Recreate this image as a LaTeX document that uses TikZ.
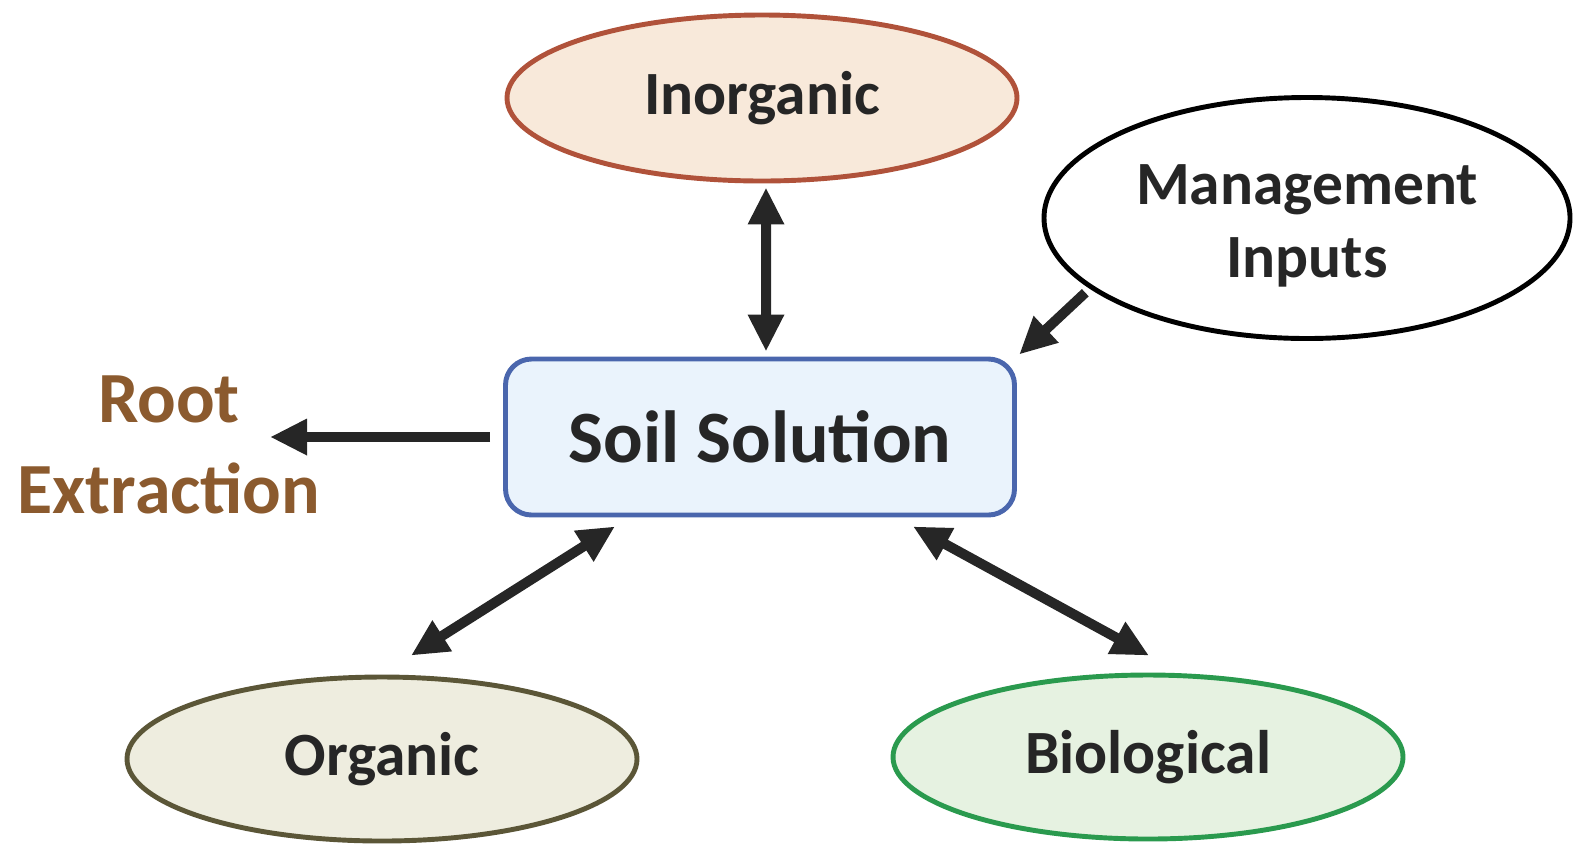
\documentclass[tikz,border=0pt]{standalone}
\usepackage{fontspec}
\setmainfont{Carlito}
\usetikzlibrary{arrows.meta,shapes.geometric,calc}
\definecolor{inkdark}{HTML}{262626}
\definecolor{inorgline}{HTML}{B0523A}
\definecolor{inorgfill}{HTML}{F8E9DA}
\definecolor{soilline}{HTML}{4A66AD}
\definecolor{soilfill}{HTML}{EAF3FC}
\definecolor{orgline}{HTML}{5B5637}
\definecolor{orgfill}{HTML}{EEEDDF}
\definecolor{bioline}{HTML}{2A9A4E}
\definecolor{biofill}{HTML}{E6F2E1}
\definecolor{rootbrown}{HTML}{8B5A2E}
\tikzset{
  pool/.style={ellipse, inner sep=0pt, line width=1.4pt, text=inkdark,
    font=\bfseries\fontsize{17.5}{20.8}\selectfont, align=center},
  hub/.style={rectangle, rounded corners=0.26cm, inner sep=0pt, line width=1.4pt,
    draw=soilline, fill=soilfill, text=inkdark, font=\bfseries\fontsize{21}{25}\selectfont},
  twoway/.style={line width=1mm, color=inkdark,
    {Triangle[length=3.7mm,width=3.4mm]}-{Triangle[length=3.7mm,width=3.4mm]}},
  oneway/.style={line width=1mm, color=inkdark, -{Triangle[length=3.7mm,width=3.4mm]}}
}
\begin{document}
\begin{tikzpicture}
			%%%%% START %%%%%
			\useasboundingbox (0, 0) rectangle (15.74, -8.51);
			
			\node[hub, minimum width=5.09cm, minimum height=1.56cm] (soil) at (7.60, -4.37) {Soil Solution};
			
			\node[pool, draw=inorgline, fill=inorgfill, minimum width=5.10cm, minimum height=1.66cm] (inorg) at (7.62, -0.98) {Inorganic};
			\node[pool, draw=black, fill=white, minimum width=5.26cm, minimum height=2.41cm] (mgmt) at (13.07, -2.18) {\rule{0pt}{0.55cm}Management\\Inputs};
			\node[pool, draw=orgline, fill=orgfill, minimum width=5.10cm, minimum height=1.64cm] (org) at (3.82, -7.59) {Organic};
			\node[pool, draw=bioline, fill=biofill, minimum width=5.10cm, minimum height=1.64cm] (bio) at (11.48, -7.57) {Biological};
			
			\node[text=rootbrown, font=\bfseries\fontsize{20.5}{26}\selectfont, align=center] (root) at (1.69, -4.45) {Root\\Extraction};
			\coordinate (roottip) at (2.70, -4.37);
			
			\draw[twoway, shorten <=0.04cm, shorten >=0.05cm] ([xshift=0.04cm]inorg.south) -- ([xshift=0.06cm]soil.north);
			\draw[oneway, shorten <=0.06cm, shorten >=0.03cm] (mgmt.198) -- (soil.north east);
			\draw[oneway, shorten <=0.13cm] (soil.west) -- (roottip);
			\draw[twoway] ($(soil.south)+(-1.45,-0.09)$) -- ($(org.north)+(0.29,0.19)$);
			\draw[twoway] ($(soil.south)+(1.53,-0.09)$) -- ($(bio.north)+(0.01,0.17)$);
			
			%%%%% END %%%%%
\end{tikzpicture}
\end{document}
